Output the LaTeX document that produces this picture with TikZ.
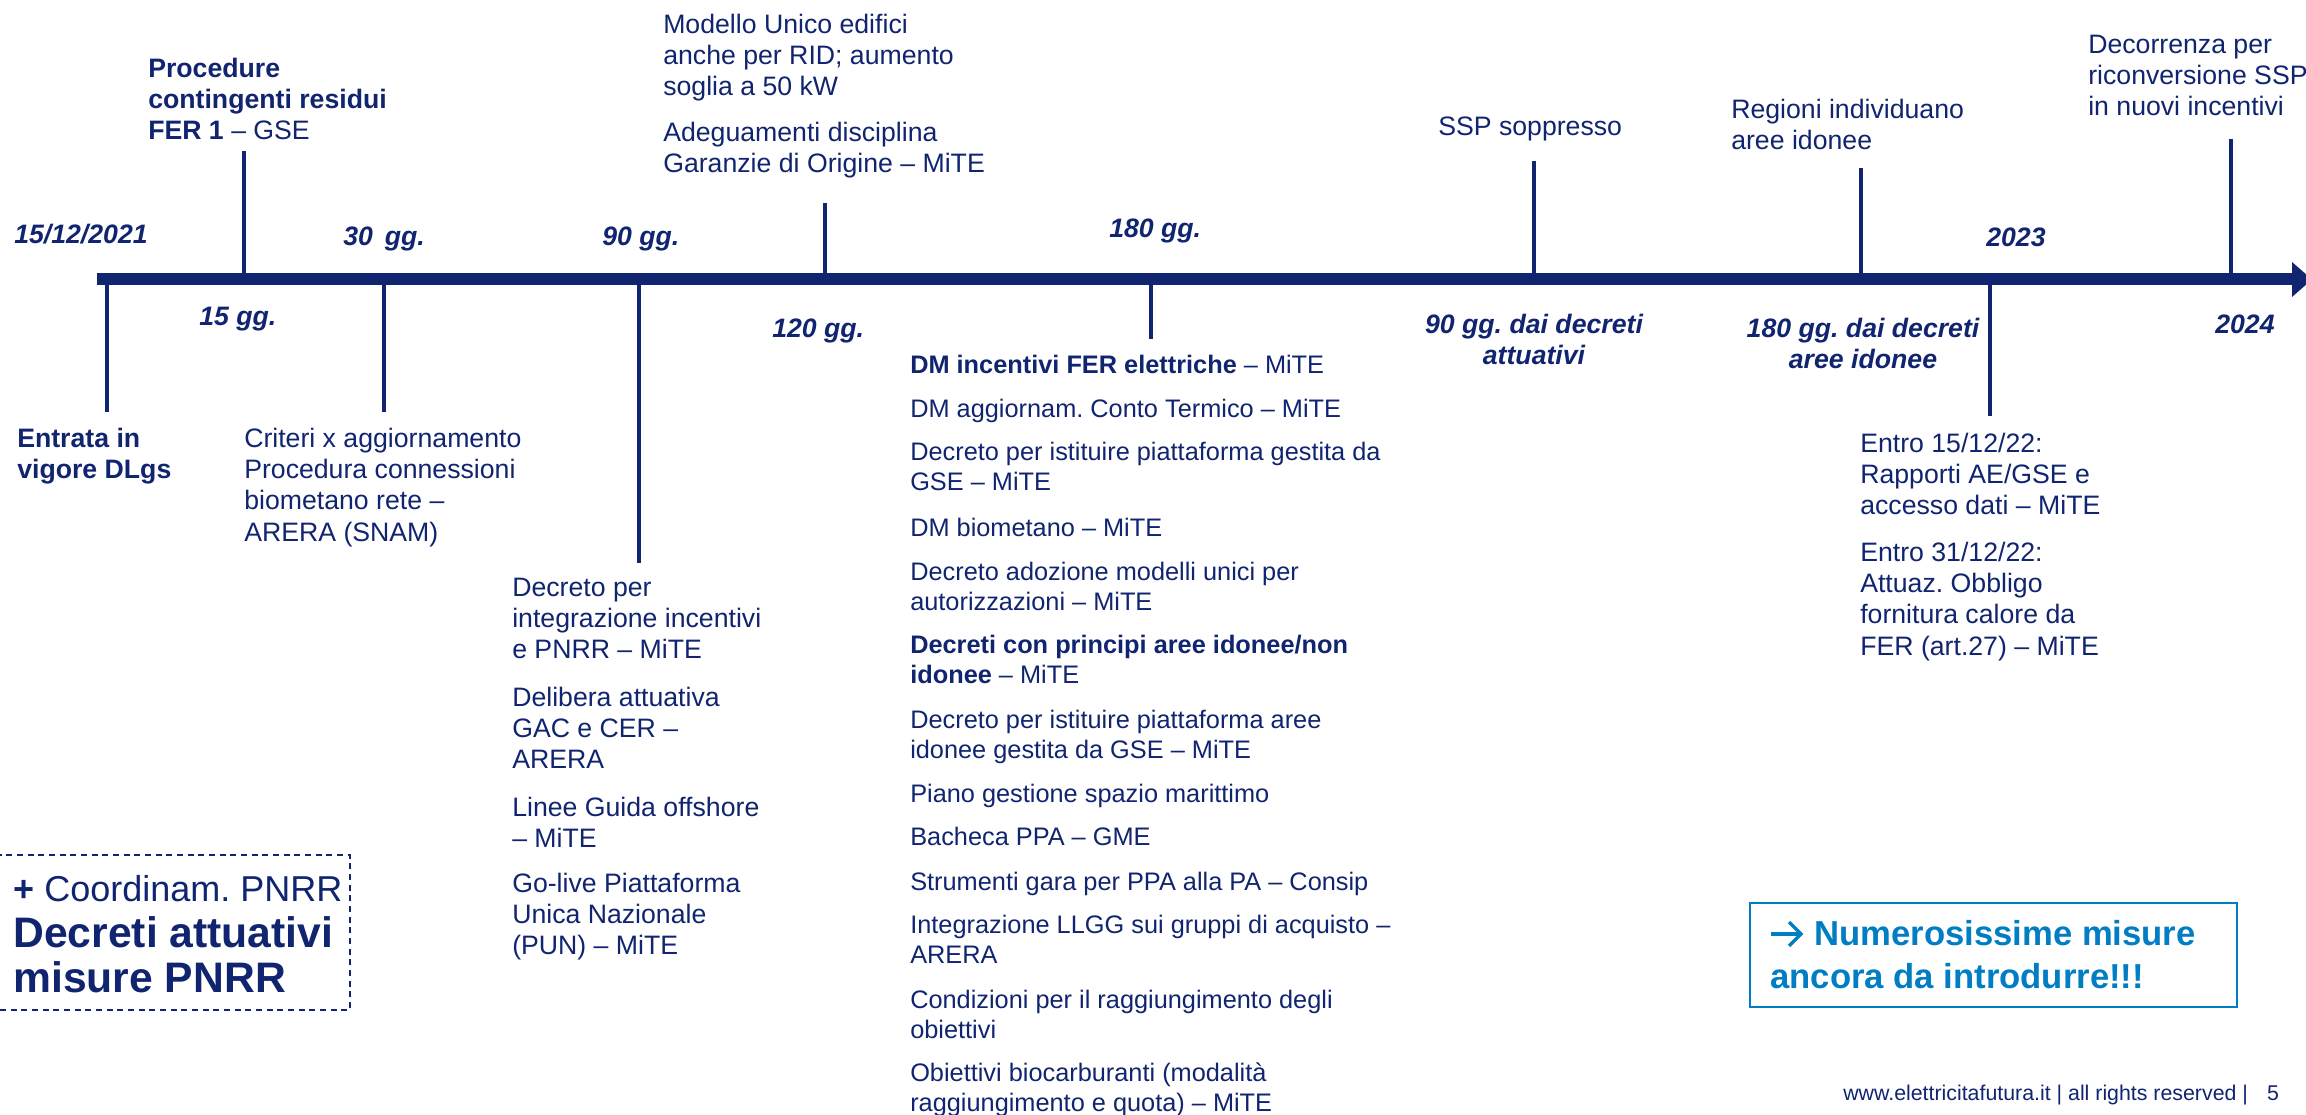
\documentclass[tikz,border=0pt]{standalone}
\usepackage{fontspec}
\setmainfont{Liberation Sans}
\definecolor{navy}{RGB}{16,36,112}
\definecolor{bluec}{RGB}{0,125,195}
\newcommand{\mylines}[1]{\begin{tabular}[t]{@{}l@{}}#1\end{tabular}}
\newcommand{\mylinesc}[1]{\begin{tabular}[t]{@{}c@{}}#1\end{tabular}}
\frenchspacing
\begin{document}
\begin{tikzpicture}[x=0.75pt,y=-0.75pt,
  lbl/.style={anchor=base west, inner sep=0pt, text=navy, font=\fontsize{20}{23.6}\selectfont},
  date/.style={lbl, font=\fontsize{20}{23.6}\selectfont\bfseries\itshape},
  datec/.style={date, anchor=base},
  lst/.style={lbl, font=\fontsize{19}{22.9}\selectfont},
  bluetxt/.style={lbl, text=bluec, font=\fontsize{26}{32.25}\selectfont\bfseries},
  tk/.style={draw=navy, line width=3pt},
  bar/.style={draw=navy, line width=9pt},
  dashbox/.style={draw=navy, line width=1.5pt, dash pattern=on 4.5pt off 3.5pt},
  bluebox/.style={draw=bluec, line width=2pt},
  bluearrow/.style={draw=bluec, line width=2.6pt, line join=miter}]
\useasboundingbox (0,0) rectangle (2306,1114);
% timeline
\coordinate (barL) at (97,279);
\coordinate (barR) at (2292,279);
\draw[bar] (barL) -- (barR);
\fill[navy] (2292,262) -- (2312,279.5) -- (2292,297) -- cycle;
% tick coordinates
\coordinate (b1) at (107,279);  \coordinate (e1) at (107,412);
\coordinate (b2) at (244,279);  \coordinate (e2) at (244,151);
\coordinate (b3) at (384,279);  \coordinate (e3) at (384,412);
\coordinate (b4) at (639,279);  \coordinate (e4) at (639,563);
\coordinate (b5) at (825,279);  \coordinate (e5) at (825,203);
\coordinate (b6) at (1151,279); \coordinate (e6) at (1151,339);
\coordinate (b7) at (1534,279); \coordinate (e7) at (1534,161);
\coordinate (b8) at (1861,279); \coordinate (e8) at (1861,168);
\coordinate (b9) at (1990,279); \coordinate (e9) at (1990,416);
\coordinate (b10) at (2231,279); \coordinate (e10) at (2231,139);
\foreach \i in {1,...,10} {\draw[tk] (b\i) -- (e\i);}
% date labels
\node[date] (d0) at (14,243) {15/12/2021};
\node[date] (d15) at (199,325) {15 gg.};
\node[date] (d30) at (343,245) {30\hspace{0.45em}gg.};
\node[date] (d90) at (602,245) {90 gg.};
\node[date] (d120) at (772,337) {120 gg.};
\node[date] (d180) at (1109,237) {180 gg.};
\node[date] (d2023) at (1986,246) {2023};
\node[date] (d2024) at (2215,333) {2024};
\node[datec] (d90d) at (1534,333) {\mylinesc{90 gg. dai decreti\\attuativi}};
\node[datec] (d180d) at (1863,337) {\mylinesc{180 gg. dai decreti\\aree idonee}};
% upper texts
\node[lbl] (proc) at (148,77) {\mylines{\textbf{Procedure}\\\textbf{contingenti residui}\\\textbf{FER 1} – GSE}};
\node[lbl] (mod) at (663,33) {\mylines{Modello Unico edifici\\anche per RID; aumento\\soglia a 50 kW}};
\node[lbl] (adeg) at (663,141) {\mylines{Adeguamenti disciplina\\Garanzie di Origine – MiTE}};
\node[lbl] (ssp) at (1438,135) {SSP soppresso};
\node[lbl] (reg) at (1731,118) {\mylines{Regioni individuano\\aree idonee}};
\node[lbl] (dec) at (2088,53) {\mylines{Decorrenza per\\riconversione SSP\\in nuovi incentivi}};
% lower texts
\node[lbl] (entr) at (17,447) {\mylines{\textbf{Entrata in}\\\textbf{vigore DLgs}}};
\node[lbl] (crit) at (244,447) {\mylines{Criteri x aggiornamento\\Procedura connessioni\\biometano rete –\\ARERA (SNAM)}};
\node[lbl] (g1) at (512,596) {\mylines{Decreto per\\integrazione incentivi\\e PNRR – MiTE}};
\node[lbl] (g2) at (512,706) {\mylines{Delibera attuativa\\GAC e CER –\\ARERA}};
\node[lbl] (g3) at (512,816) {\mylines{Linee Guida offshore\\– MiTE}};
\node[lbl] (g4) at (512,892) {\mylines{Go-live Piattaforma\\Unica Nazionale\\(PUN) – MiTE}};
\node[lbl] (en1) at (1860,452) {\mylines{Entro 15/12/22:\\Rapporti AE/GSE e\\accesso dati – MiTE}};
\node[lbl] (en2) at (1860,561) {\mylines{Entro 31/12/22:\\Attuaz. Obbligo\\fornitura calore da\\FER (art.27) – MiTE}};
% 180 gg list
\node[lst] (l1) at (910,373) {\textbf{DM incentivi FER elettriche} – MiTE};
\node[lst] (l2) at (910,417) {DM aggiornam. Conto Termico – MiTE};
\node[lst] (l3) at (910,460) {\mylines{Decreto per istituire piattaforma gestita da\\GSE – MiTE}};
\node[lst] (l4) at (910,536) {DM biometano – MiTE};
\node[lst] (l5) at (910,580) {\mylines{Decreto adozione modelli unici per\\autorizzazioni – MiTE}};
\node[lst] (l6) at (910,653) {\mylines{\textbf{Decreti con principi aree idonee/non}\\\textbf{idonee} – MiTE}};
\node[lst] (l7) at (910,728) {\mylines{Decreto per istituire piattaforma aree\\idonee gestita da GSE – MiTE}};
\node[lst] (l8) at (910,802) {Piano gestione spazio marittimo};
\node[lst] (l9) at (910,845) {Bacheca PPA – GME};
\node[lst] (l10) at (910,890) {Strumenti gara per PPA alla PA – Consip};
\node[lst] (l11) at (910,933) {\mylines{Integrazione LLGG sui gruppi di acquisto –\\ARERA}};
\node[lst] (l12) at (910,1008) {\mylines{Condizioni per il raggiungimento degli\\obiettivi}};
\node[lst] (l13) at (910,1081) {\mylines{Obiettivi biocarburanti (modalità\\raggiungimento e quota) – MiTE}};
% dashed box
\draw[dashbox] (-5,855) rectangle (350,1010);
\node[lbl, font=\fontsize{27}{30}\selectfont] (pn1) at (13,901) {\textbf{+} Coordinam. PNRR};
\node[lbl, font=\fontsize{32}{33.75}\selectfont\bfseries] (pn2) at (13,947) {\mylines{Decreti attuativi\\misure PNRR}};
% blue box
\draw[bluebox] (1750,903) rectangle (2237,1007);
\coordinate (arS) at (1771,934);
\coordinate (arE) at (1801,934);
\draw[bluearrow] (arS) -- (arE);
\draw[bluearrow] (1789,922) -- (arE) -- (1789,946);
\node[bluetxt] (num1) at (1814,945) {Numerosissime misure};
\node[bluetxt] (num2) at (1770,988) {ancora da introdurre!!!};
% footer
\node[lbl, font=\fontsize{16}{19}\selectfont] (foot) at (1843,1100) {www.elettricitafutura.it | all rights reserved |\hspace{0.9em}5};
\end{tikzpicture}
\end{document}
